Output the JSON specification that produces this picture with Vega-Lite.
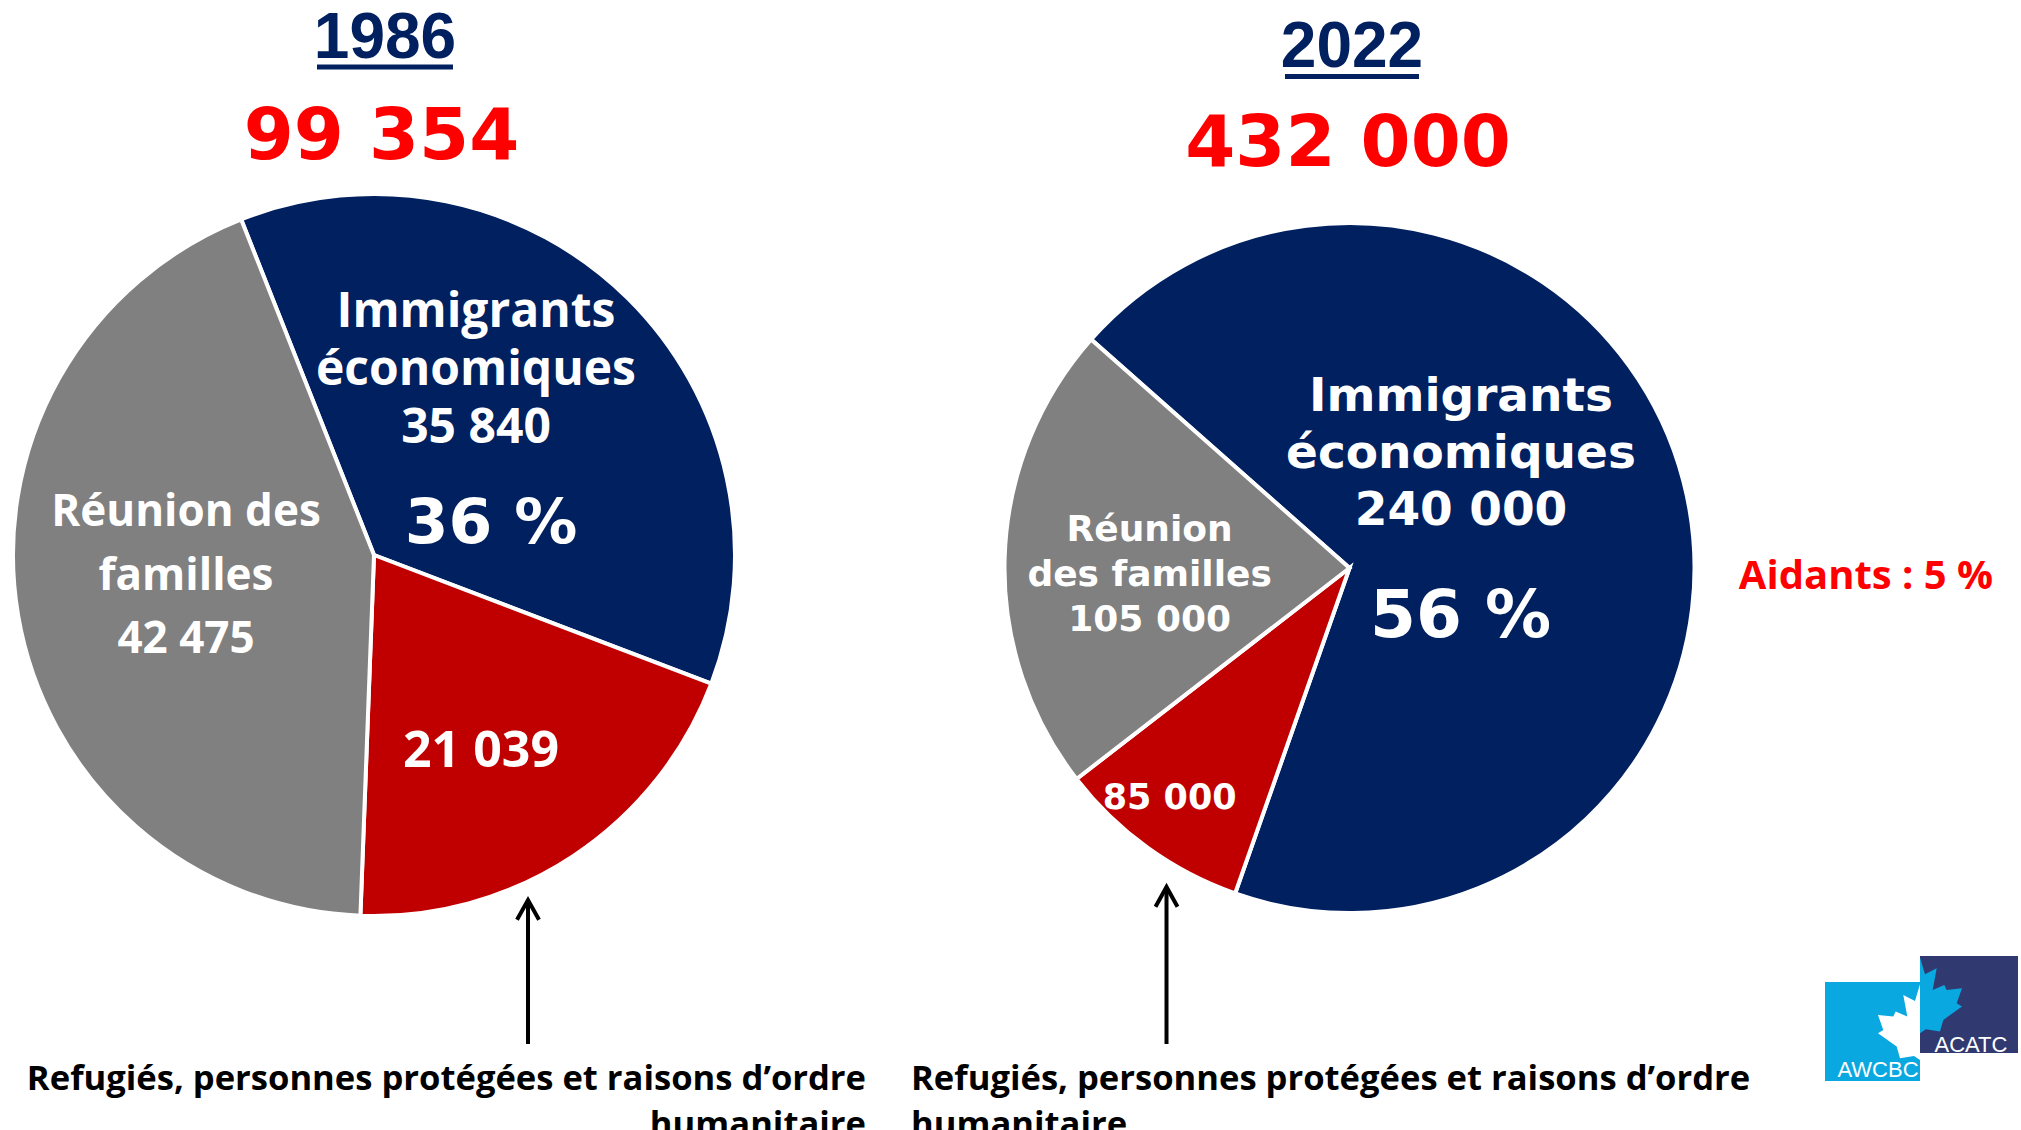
{
  "$schema": "https://vega.github.io/schema/vega-lite/v6.json",
  "background": "white",
  "padding": 0,
  "spacing": 0,
  "bounds": "flush",
  "config": {"view": {"stroke": null}},
  "datasets": {
    "camembert1986": [
      {"categorie": "Immigrants économiques", "rang": 1, "part": 36.8, "etiquette": ["Immigrants", "économiques", "35 840"], "pourcentage": "36 %"},
      {"categorie": "Réfugiés, personnes protégées et raisons d’ordre humanitaire", "rang": 2, "part": 19.8, "etiquette": ["21 039"], "pourcentage": null},
      {"categorie": "Réunion des familles", "rang": 3, "part": 43.4, "etiquette": ["Réunion des", "familles", "42 475"], "pourcentage": null}
    ],
    "camembert2022": [
      {"categorie": "Immigrants économiques", "rang": 1, "part": 68.85, "etiquette": ["Immigrants", "économiques", "240 000"], "pourcentage": "56 %"},
      {"categorie": "Réfugiés, personnes protégées et raisons d’ordre humanitaire", "rang": 2, "part": 9.15, "etiquette": ["85 000"], "pourcentage": null},
      {"categorie": "Réunion des familles", "rang": 3, "part": 22.0, "etiquette": ["Réunion", "des familles", "105 000"], "pourcentage": null}
    ],
    "notes1986": [
      {"annee": "1986", "total": "99 354", "legende": ["Refugiés, personnes protégées et raisons d’ordre", "humanitaire"]}
    ],
    "notes2022": [
      {"annee": "2022", "total": "432 000", "legende": ["Refugiés, personnes protégées et raisons d’ordre", "humanitaire"], "aidants": "Aidants : 5 %", "logo1": "AWCBC", "logo2": "ACATC"}
    ]
  },
  "hconcat": [
    {
      "width": 748,
      "height": 1110,
      "layer": [
        {
          "data": {"name": "camembert1986"},
          "mark": {"type": "arc", "outerRadius": 361, "stroke": "white", "strokeWidth": 4},
          "encoding": {
            "theta": {"field": "part", "type": "quantitative", "stack": true, "scale": {"range": [-0.377, 5.9062]}},
            "order": {"field": "rang", "type": "quantitative"},
            "color": {"field": "categorie", "type": "nominal", "legend": null,
              "scale": {"domain": ["Immigrants économiques", "Réfugiés, personnes protégées et raisons d’ordre humanitaire", "Réunion des familles"], "range": ["#002060", "#C00000", "#808080"]}}
          }
        },
        {
          "data": {"name": "notes1986"},
          "mark": {"type": "text", "font": "Liberation Sans Narrow, Liberation Sans, sans-serif", "fontWeight": "bold", "fontSize": 64, "color": "#002060", "align": "center", "baseline": "alphabetic"},
          "encoding": {
            "text": {"field": "annee"},
            "x": {"datum": 0.0305, "type": "quantitative", "scale": {"domain": [-1.036, 1.036], "nice": false, "zero": false}, "axis": null},
            "y": {"datum": -1.3767, "type": "quantitative", "scale": {"domain": [-1.5374, 1.5374], "nice": false, "zero": false, "reverse": true}, "axis": null}
          }
        },
        {
          "data": {"name": "notes1986"},
          "mark": {"type": "rule", "color": "#002060", "strokeWidth": 5},
          "encoding": {
            "x": {"datum": -0.1579, "type": "quantitative", "scale": {"domain": [-1.036, 1.036], "nice": false, "zero": false}, "axis": null},
            "x2": {"datum": 0.2188},
            "y": {"datum": -1.3518, "type": "quantitative", "scale": {"domain": [-1.5374, 1.5374], "nice": false, "zero": false, "reverse": true}, "axis": null}
          }
        },
        {
          "data": {"name": "notes1986"},
          "mark": {"type": "text", "font": "DejaVu Sans", "fontWeight": "bold", "fontSize": 72, "color": "#FF0000", "align": "center", "baseline": "alphabetic"},
          "encoding": {
            "text": {"field": "total"},
            "x": {"datum": 0.0208, "type": "quantitative", "scale": {"domain": [-1.036, 1.036], "nice": false, "zero": false}, "axis": null},
            "y": {"datum": -1.0983, "type": "quantitative", "scale": {"domain": [-1.5374, 1.5374], "nice": false, "zero": false, "reverse": true}, "axis": null}
          }
        },
        {
          "data": {"name": "camembert1986"},
          "transform": [{"filter": "datum.rang == 1"}],
          "mark": {"type": "text", "font": "Open Sans", "fontWeight": "bold", "fontSize": 48, "lineHeight": 58, "color": "white", "align": "center", "baseline": "alphabetic"},
          "encoding": {
            "text": {"field": "etiquette"},
            "x": {"datum": 0.2825, "type": "quantitative", "scale": {"domain": [-1.036, 1.036], "nice": false, "zero": false}, "axis": null},
            "y": {"datum": -0.632, "type": "quantitative", "scale": {"domain": [-1.5374, 1.5374], "nice": false, "zero": false, "reverse": true}, "axis": null}
          }
        },
        {
          "data": {"name": "camembert1986"},
          "transform": [{"filter": "datum.rang == 1"}],
          "mark": {"type": "text", "font": "DejaVu Sans", "fontWeight": "bold", "fontSize": 63, "color": "white", "align": "center", "baseline": "alphabetic"},
          "encoding": {
            "text": {"field": "pourcentage"},
            "x": {"datum": 0.3241, "type": "quantitative", "scale": {"domain": [-1.036, 1.036], "nice": false, "zero": false}, "axis": null},
            "y": {"datum": -0.0319, "type": "quantitative", "scale": {"domain": [-1.5374, 1.5374], "nice": false, "zero": false, "reverse": true}, "axis": null}
          }
        },
        {
          "data": {"name": "camembert1986"},
          "transform": [{"filter": "datum.rang == 3"}],
          "mark": {"type": "text", "font": "Open Sans", "fontWeight": "bold", "fontSize": 44, "lineHeight": 63.5, "color": "white", "align": "center", "baseline": "alphabetic"},
          "encoding": {
            "text": {"field": "etiquette"},
            "x": {"datum": -0.5208, "type": "quantitative", "scale": {"domain": [-1.036, 1.036], "nice": false, "zero": false}, "axis": null},
            "y": {"datum": -0.079, "type": "quantitative", "scale": {"domain": [-1.5374, 1.5374], "nice": false, "zero": false, "reverse": true}, "axis": null}
          }
        },
        {
          "data": {"name": "camembert1986"},
          "transform": [{"filter": "datum.rang == 2"}],
          "mark": {"type": "text", "font": "Open Sans", "fontWeight": "bold", "fontSize": 50, "color": "white", "align": "center", "baseline": "alphabetic"},
          "encoding": {
            "text": {"field": "etiquette"},
            "x": {"datum": 0.2964, "type": "quantitative", "scale": {"domain": [-1.036, 1.036], "nice": false, "zero": false}, "axis": null},
            "y": {"datum": 0.5886, "type": "quantitative", "scale": {"domain": [-1.5374, 1.5374], "nice": false, "zero": false, "reverse": true}, "axis": null}
          }
        },
        {
          "data": {"name": "notes1986"},
          "mark": {"type": "rule", "color": "black", "strokeWidth": 4},
          "encoding": {
            "x": {"datum": 0.4266, "type": "quantitative", "scale": {"domain": [-1.036, 1.036], "nice": false, "zero": false}, "axis": null},
            "y": {"datum": 0.958, "type": "quantitative", "scale": {"domain": [-1.5374, 1.5374], "nice": false, "zero": false, "reverse": true}, "axis": null},
            "y2": {"datum": 1.3546}
          }
        },
        {
          "data": {"name": "notes1986"},
          "mark": {"type": "point", "shape": "M-1,1.8L0,0L1,1.8", "filled": false, "stroke": "black", "strokeWidth": 4, "size": 484, "opacity": 1},
          "encoding": {
            "x": {"datum": 0.4266, "type": "quantitative", "scale": {"domain": [-1.036, 1.036], "nice": false, "zero": false}, "axis": null},
            "y": {"datum": 0.9557, "type": "quantitative", "scale": {"domain": [-1.5374, 1.5374], "nice": false, "zero": false, "reverse": true}, "axis": null}
          }
        },
        {
          "data": {"name": "notes1986"},
          "mark": {"type": "text", "font": "Open Sans", "fontWeight": "bold", "fontSize": 34.6, "lineHeight": 46, "color": "black", "align": "right", "baseline": "alphabetic"},
          "encoding": {
            "text": {"field": "legende"},
            "x": {"datum": 1.3629, "type": "quantitative", "scale": {"domain": [-1.036, 1.036], "nice": false, "zero": false}, "axis": null},
            "y": {"datum": 1.482, "type": "quantitative", "scale": {"domain": [-1.5374, 1.5374], "nice": false, "zero": false, "reverse": true}, "axis": null}
          }
        }
      ]
    },
    {
      "width": 1203,
      "height": 1136,
      "layer": [
        {
          "data": {"name": "camembert2022"},
          "mark": {"type": "arc", "outerRadius": 345, "stroke": "white", "strokeWidth": 4},
          "encoding": {
            "theta": {"field": "part", "type": "quantitative", "stack": true, "scale": {"range": [-0.8465, 5.4367]}},
            "order": {"field": "rang", "type": "quantitative"},
            "color": {"field": "categorie", "type": "nominal", "legend": null,
              "scale": {"domain": ["Immigrants économiques", "Réfugiés, personnes protégées et raisons d’ordre humanitaire", "Réunion des familles"], "range": ["#002060", "#C00000", "#808080"]}}
          }
        },
        {
          "data": {"name": "notes2022"},
          "mark": {"type": "text", "font": "Liberation Sans Narrow, Liberation Sans, sans-serif", "fontWeight": "bold", "fontSize": 64, "color": "#002060", "align": "center", "baseline": "alphabetic"},
          "encoding": {
            "text": {"field": "annee"},
            "x": {"datum": 0.0072, "type": "quantitative", "scale": {"domain": [-1.7435, 1.7435], "nice": false, "zero": false}, "axis": null},
            "y": {"datum": -1.4522, "type": "quantitative", "scale": {"domain": [-1.6464, 1.6464], "nice": false, "zero": false, "reverse": true}, "axis": null}
          }
        },
        {
          "data": {"name": "notes2022"},
          "mark": {"type": "rule", "color": "#002060", "strokeWidth": 5},
          "encoding": {
            "x": {"datum": -0.187, "type": "quantitative", "scale": {"domain": [-1.7435, 1.7435], "nice": false, "zero": false}, "axis": null},
            "x2": {"datum": 0.2014},
            "y": {"datum": -1.4246, "type": "quantitative", "scale": {"domain": [-1.6464, 1.6464], "nice": false, "zero": false, "reverse": true}, "axis": null}
          }
        },
        {
          "data": {"name": "notes2022"},
          "mark": {"type": "text", "font": "DejaVu Sans", "fontWeight": "bold", "fontSize": 72, "color": "#FF0000", "align": "center", "baseline": "alphabetic"},
          "encoding": {
            "text": {"field": "total"},
            "x": {"datum": -0.0043, "type": "quantitative", "scale": {"domain": [-1.7435, 1.7435], "nice": false, "zero": false}, "axis": null},
            "y": {"datum": -1.1652, "type": "quantitative", "scale": {"domain": [-1.6464, 1.6464], "nice": false, "zero": false, "reverse": true}, "axis": null}
          }
        },
        {
          "data": {"name": "camembert2022"},
          "transform": [{"filter": "datum.rang == 1"}],
          "mark": {"type": "text", "font": "DejaVu Sans", "fontWeight": "bold", "fontSize": 47, "lineHeight": 57, "color": "white", "align": "center", "baseline": "alphabetic"},
          "encoding": {
            "text": {"field": "etiquette"},
            "x": {"datum": 0.3232, "type": "quantitative", "scale": {"domain": [-1.7435, 1.7435], "nice": false, "zero": false}, "axis": null},
            "y": {"datum": -0.4562, "type": "quantitative", "scale": {"domain": [-1.6464, 1.6464], "nice": false, "zero": false, "reverse": true}, "axis": null}
          }
        },
        {
          "data": {"name": "camembert2022"},
          "transform": [{"filter": "datum.rang == 1"}],
          "mark": {"type": "text", "font": "DejaVu Sans", "fontWeight": "bold", "fontSize": 66, "color": "white", "align": "center", "baseline": "alphabetic"},
          "encoding": {
            "text": {"field": "pourcentage"},
            "x": {"datum": 0.322, "type": "quantitative", "scale": {"domain": [-1.7435, 1.7435], "nice": false, "zero": false}, "axis": null},
            "y": {"datum": 0.2, "type": "quantitative", "scale": {"domain": [-1.6464, 1.6464], "nice": false, "zero": false, "reverse": true}, "axis": null}
          }
        },
        {
          "data": {"name": "camembert2022"},
          "transform": [{"filter": "datum.rang == 3"}],
          "mark": {"type": "text", "font": "DejaVu Sans", "fontWeight": "bold", "fontSize": 36, "lineHeight": 45, "color": "white", "align": "center", "baseline": "alphabetic"},
          "encoding": {
            "text": {"field": "etiquette"},
            "x": {"datum": -0.5794, "type": "quantitative", "scale": {"domain": [-1.7435, 1.7435], "nice": false, "zero": false}, "axis": null},
            "y": {"datum": -0.0794, "type": "quantitative", "scale": {"domain": [-1.6464, 1.6464], "nice": false, "zero": false, "reverse": true}, "axis": null}
          }
        },
        {
          "data": {"name": "camembert2022"},
          "transform": [{"filter": "datum.rang == 2"}],
          "mark": {"type": "text", "font": "DejaVu Sans", "fontWeight": "bold", "fontSize": 35, "color": "white", "align": "center", "baseline": "alphabetic"},
          "encoding": {
            "text": {"field": "etiquette"},
            "x": {"datum": -0.5214, "type": "quantitative", "scale": {"domain": [-1.7435, 1.7435], "nice": false, "zero": false}, "axis": null},
            "y": {"datum": 0.6986, "type": "quantitative", "scale": {"domain": [-1.6464, 1.6464], "nice": false, "zero": false, "reverse": true}, "axis": null}
          }
        },
        {
          "data": {"name": "notes2022"},
          "mark": {"type": "rule", "color": "black", "strokeWidth": 4},
          "encoding": {
            "x": {"datum": -0.5304, "type": "quantitative", "scale": {"domain": [-1.7435, 1.7435], "nice": false, "zero": false}, "axis": null},
            "y": {"datum": 0.927, "type": "quantitative", "scale": {"domain": [-1.6464, 1.6464], "nice": false, "zero": false, "reverse": true}, "axis": null},
            "y2": {"datum": 1.3797}
          }
        },
        {
          "data": {"name": "notes2022"},
          "mark": {"type": "point", "shape": "M-1,1.8L0,0L1,1.8", "filled": false, "stroke": "black", "strokeWidth": 4, "size": 484, "opacity": 1},
          "encoding": {
            "x": {"datum": -0.5304, "type": "quantitative", "scale": {"domain": [-1.7435, 1.7435], "nice": false, "zero": false}, "axis": null},
            "y": {"datum": 0.9246, "type": "quantitative", "scale": {"domain": [-1.6464, 1.6464], "nice": false, "zero": false, "reverse": true}, "axis": null}
          }
        },
        {
          "data": {"name": "notes2022"},
          "mark": {"type": "text", "font": "Open Sans", "fontWeight": "bold", "fontSize": 34.6, "lineHeight": 46, "color": "black", "align": "left", "baseline": "alphabetic"},
          "encoding": {
            "text": {"field": "legende"},
            "x": {"datum": -1.271, "type": "quantitative", "scale": {"domain": [-1.7435, 1.7435], "nice": false, "zero": false}, "axis": null},
            "y": {"datum": 1.513, "type": "quantitative", "scale": {"domain": [-1.6464, 1.6464], "nice": false, "zero": false, "reverse": true}, "axis": null}
          }
        },
        {
          "data": {"name": "notes2022"},
          "mark": {"type": "text", "font": "Open Sans", "fontWeight": "bold", "fontSize": 40, "color": "#FF0000", "align": "center", "baseline": "alphabetic"},
          "encoding": {
            "text": {"field": "aidants"},
            "x": {"datum": 1.4971, "type": "quantitative", "scale": {"domain": [-1.7435, 1.7435], "nice": false, "zero": false}, "axis": null},
            "y": {"datum": 0.0609, "type": "quantitative", "scale": {"domain": [-1.6464, 1.6464], "nice": false, "zero": false, "reverse": true}, "axis": null}
          }
        },
        {
          "data": {"name": "notes2022"},
          "mark": {"type": "rect", "color": "#0AA8E0"},
          "encoding": {
            "x": {"datum": 1.3783, "type": "quantitative", "scale": {"domain": [-1.7435, 1.7435], "nice": false, "zero": false}, "axis": null},
            "x2": {"datum": 1.6536},
            "y": {"datum": 1.2, "type": "quantitative", "scale": {"domain": [-1.6464, 1.6464], "nice": false, "zero": false, "reverse": true}, "axis": null},
            "y2": {"datum": 1.487}
          }
        },
        {
          "data": {"name": "notes2022"},
          "mark": {"type": "rect", "color": "#313A70"},
          "encoding": {
            "x": {"datum": 1.6536, "type": "quantitative", "scale": {"domain": [-1.7435, 1.7435], "nice": false, "zero": false}, "axis": null},
            "x2": {"datum": 1.9377},
            "y": {"datum": 1.1246, "type": "quantitative", "scale": {"domain": [-1.6464, 1.6464], "nice": false, "zero": false, "reverse": true}, "axis": null},
            "y2": {"datum": 1.4058}
          }
        },
        {
          "data": {"name": "notes2022"},
          "mark": {"type": "point", "shape": "M0,-38L-5,-21.3L-16.7,-27.3L-12.7,-5.7L-24.3,-10.7L-26.7,-5.7L-42,-7.3L-36.7,7.7L-42,11L-23.3,24.3L-20,36L-6,33.7L0,37.7Z", "filled": true, "color": "white", "size": 4, "opacity": 1, "strokeWidth": 0},
          "encoding": {
            "x": {"datum": 1.6536, "type": "quantitative", "scale": {"domain": [-1.7435, 1.7435], "nice": false, "zero": false}, "axis": null},
            "y": {"datum": 1.3168, "type": "quantitative", "scale": {"domain": [-1.6464, 1.6464], "nice": false, "zero": false, "reverse": true}, "axis": null}
          }
        },
        {
          "data": {"name": "notes2022"},
          "mark": {"type": "point", "shape": "M0,-38L5,-21.3L16.7,-27.3L12.7,-5.7L24.3,-10.7L26.7,-5.7L42,-7.3L36.7,7.7L42,11L23.3,24.3L20,36L6,33.7L0,37.7Z", "filled": true, "color": "#0AA8E0", "size": 4, "opacity": 1, "strokeWidth": 0},
          "encoding": {
            "x": {"datum": 1.6536, "type": "quantitative", "scale": {"domain": [-1.7435, 1.7435], "nice": false, "zero": false}, "axis": null},
            "y": {"datum": 1.2394, "type": "quantitative", "scale": {"domain": [-1.6464, 1.6464], "nice": false, "zero": false, "reverse": true}, "axis": null}
          }
        },
        {
          "data": {"name": "notes2022"},
          "mark": {"type": "text", "font": "Liberation Sans, sans-serif", "fontSize": 22, "color": "white", "align": "center", "baseline": "alphabetic"},
          "encoding": {
            "text": {"field": "logo1"},
            "x": {"datum": 1.5319, "type": "quantitative", "scale": {"domain": [-1.7435, 1.7435], "nice": false, "zero": false}, "axis": null},
            "y": {"datum": 1.4754, "type": "quantitative", "scale": {"domain": [-1.6464, 1.6464], "nice": false, "zero": false, "reverse": true}, "axis": null}
          }
        },
        {
          "data": {"name": "notes2022"},
          "mark": {"type": "text", "font": "Liberation Sans, sans-serif", "fontSize": 22, "color": "white", "align": "center", "baseline": "alphabetic"},
          "encoding": {
            "text": {"field": "logo2"},
            "x": {"datum": 1.8014, "type": "quantitative", "scale": {"domain": [-1.7435, 1.7435], "nice": false, "zero": false}, "axis": null},
            "y": {"datum": 1.4029, "type": "quantitative", "scale": {"domain": [-1.6464, 1.6464], "nice": false, "zero": false, "reverse": true}, "axis": null}
          }
        }
      ]
    }
  ]
}
